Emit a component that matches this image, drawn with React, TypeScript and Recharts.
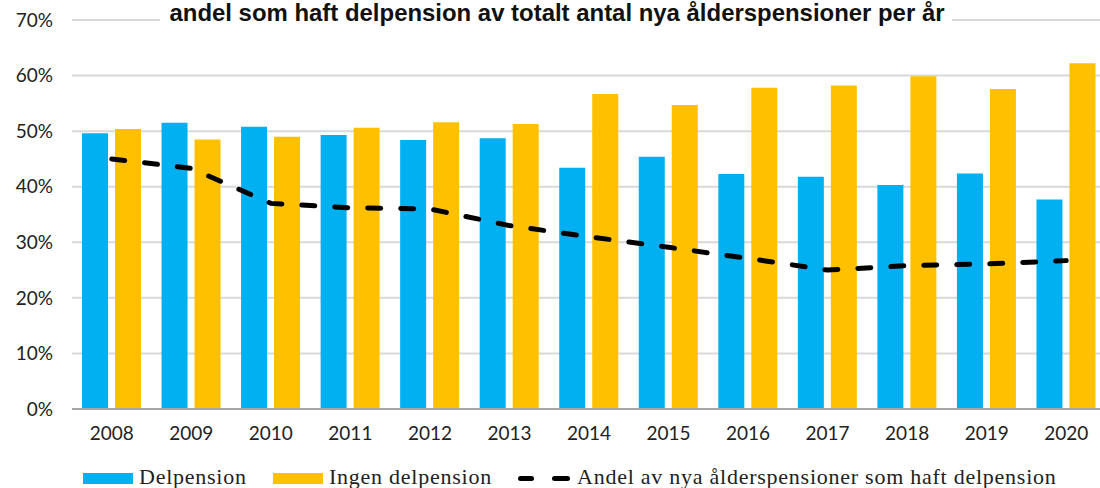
import React from "react";
import {
  ComposedChart,
  Bar,
  Line,
  XAxis,
  YAxis,
  CartesianGrid,
  Legend,
} from "recharts";

// values (percent)
const years = ["2008", "2009", "2010", "2011", "2012", "2013", "2014", "2015", "2016", "2017", "2018", "2019", "2020"];
const delpension = [49.6, 51.5, 50.8, 49.3, 48.4, 48.7, 43.4, 45.4, 42.3, 41.8, 40.3, 42.4, 37.7];
const ingenDelpension = [50.4, 48.5, 49.0, 50.6, 51.6, 51.3, 56.7, 54.7, 57.8, 58.2, 59.9, 57.6, 62.2];
const andelDelpension = [45.0, 43.3, 37.0, 36.2, 36.0, 33.0, 31.0, 29.1, 27.1, 25.0, 25.8, 26.1, 26.7];
const yTicks = [0, 10, 20, 30, 40, 50, 60, 70];

const title = "andel som haft delpension av totalt antal nya ålderspensioner per år";
const BLUE = "#00b0f0";
const YELLOW = "#ffc000";
const serif = "'Liberation Serif', 'Times New Roman', serif";
const sans = "Lato, 'Open Sans', sans-serif";

const data = years.map((year, i) => ({
  year,
  delpension: delpension[i],
  ingen: ingenDelpension[i],
  andel: andelDelpension[i],
}));

const renderLegend = () => (
  <div
    style={{
      position: "relative",
      width: 1100,
      height: 22,
      fontFamily: serif,
      fontSize: 22,
      lineHeight: "22px",
      letterSpacing: 0.75,
      color: "#222",
    }}
  >
    <span style={{ position: "absolute", left: 83, top: 7, width: 50, height: 11, background: BLUE }} />
    <span style={{ position: "absolute", left: 139, top: 0, whiteSpace: "nowrap" }}>Delpension</span>
    <span style={{ position: "absolute", left: 273, top: 7, width: 50, height: 11, background: YELLOW }} />
    <span style={{ position: "absolute", left: 329, top: 0, whiteSpace: "nowrap" }}>Ingen delpension</span>
    <span style={{ position: "absolute", left: 518, top: 9.5, width: 16, height: 5, borderRadius: 3, background: "#000" }} />
    <span style={{ position: "absolute", left: 552, top: 9.5, width: 18, height: 5, borderRadius: 3, background: "#000" }} />
    <span style={{ position: "absolute", left: 577, top: 0, whiteSpace: "nowrap" }}>
      Andel av nya ålderspensioner som haft delpension
    </span>
  </div>
);

export default function App() {
  return (
    <div style={{ position: "absolute", left: 0, top: 0, width: 1100, height: 488, overflow: "hidden", background: "#fff" }}>
      <ComposedChart
        width={1106}
        height={488}
        data={data}
        margin={{ top: 20, right: 0, bottom: 0, left: 0 }}
        barSize={26}
        barGap={7}
      >
        <CartesianGrid vertical={false} stroke="#d9d9d9" strokeWidth={2} />
        <XAxis
          dataKey="year"
          height={57}
          tickLine={false}
          tickMargin={12}
          axisLine={{ stroke: "#a6a6a6", strokeWidth: 2 }}
          tick={{ fill: "#222", fontSize: 19, fontFamily: sans }}
          interval={0}
        />
        <YAxis
          width={72}
          domain={[0, 70]}
          ticks={yTicks}
          tickFormatter={(v: number) => `${v}%`}
          axisLine={false}
          tickLine={false}
          tickMargin={13}
          tick={{ fill: "#222", fontSize: 19, fontFamily: sans }}
        />
        <Bar dataKey="delpension" name="Delpension" fill={BLUE} isAnimationActive={false} />
        <Bar dataKey="ingen" name="Ingen delpension" fill={YELLOW} isAnimationActive={false} />
        <Line
          dataKey="andel"
          name="Andel av nya ålderspensioner som haft delpension"
          type="linear"
          stroke="#000"
          strokeWidth={5}
          strokeDasharray="13 20"
          strokeLinecap="round"
          dot={false}
          activeDot={false}
          isAnimationActive={false}
        />
        <Legend verticalAlign="bottom" content={renderLegend} />
        <rect x={160} y={0} width={792} height={27} fill="#fff" />
        <text
          x={557}
          y={21}
          textAnchor="middle"
          textLength={775}
          lengthAdjust="spacingAndGlyphs"
          fontFamily="'Liberation Sans', Arial, sans-serif"
          fontWeight="bold"
          fontSize={24}
          fill="#111"
        >
          {title}
        </text>
      </ComposedChart>
    </div>
  );
}
